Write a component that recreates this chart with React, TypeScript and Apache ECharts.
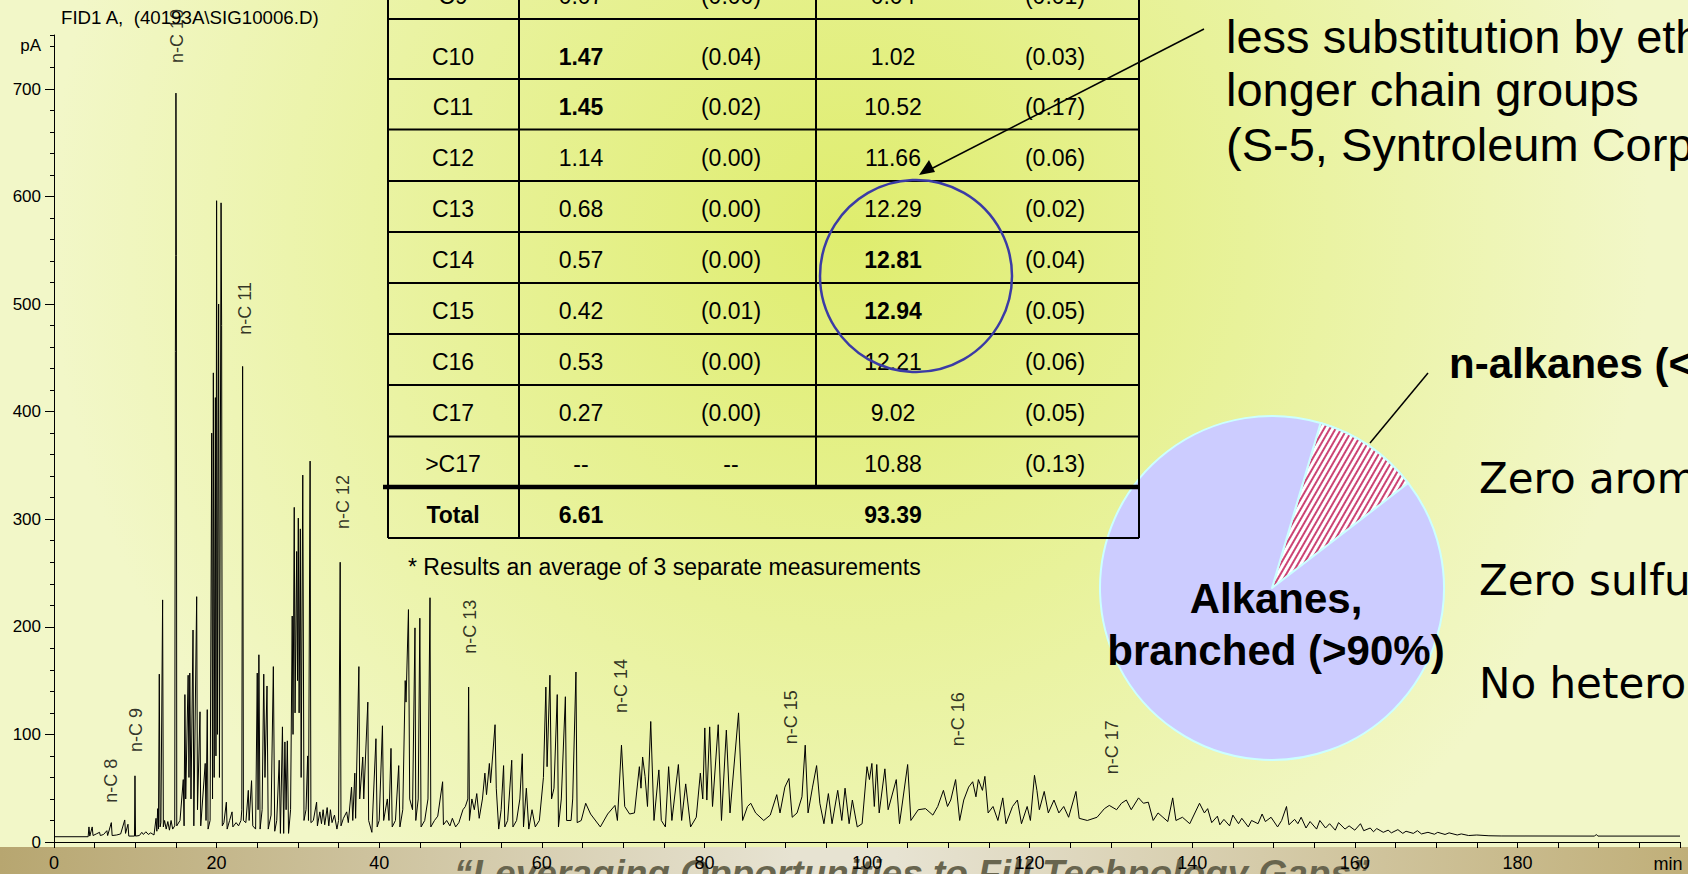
import React, { useEffect, useRef } from "react";
import * as echarts from "echarts";

const W = 1688;
const H = 874;
const FONT = '"Liberation Sans", Arial, Helvetica, sans-serif';

// ---------- axes ----------
const X_MAX = 200;
const X_LABELS = [0, 20, 40, 60, 80, 100, 120, 140, 160, 180];
const Y_MAX = 750;
const Y_LABEL_MAX = 700;

// ---------- chromatogram trace (min, pA) ----------
const TRACE_START: [number, number][] = [
  [0, 4.9], [4.2, 4.9], [4.3, 14], [4.4, 5.5], [4.7, 14], [4.8, 6], [5.2, 7.5], [5.6, 9], [5.7, 6], [6.1, 7],
  [6.5, 10.5], [6.6, 6], [7.05, 18], [7.15, 6], [7.7, 6.5], [8.2, 7.5], [8.7, 20.5], [8.8, 8], [9.1, 16.5],
  [9.2, 5.5], [9.9, 5.5], [9.96, 61.5], [10.03, 5.5], [10.5, 6], [10.8, 9], [11.0, 7], [11.3, 9.5], [11.6, 7],
  [11.9, 8.5], [12.3, 6.5],
];
const TRACE_C10_C11: [number, number][] = [
  [12.55, 22], [12.65, 10], [12.75, 31], [12.85, 12], [12.95, 156], [13.05, 14], [13.15, 18], [13.36, 225],
  [13.45, 14], [13.6, 20], [13.8, 12], [14.0, 19], [14.2, 11], [14.4, 20], [14.6, 12], [14.85, 15], [14.93, 456],
  [14.97, 545], [15.0, 696], [15.05, 545], [15.1, 15], [15.5, 20], [15.9, 58], [16.0, 15], [16.1, 137], [16.2, 40],
  [16.5, 155], [16.6, 60], [16.7, 157], [16.85, 40], [17.1, 197], [17.2, 15], [17.55, 228], [17.65, 30],
  [17.96, 121], [18.05, 15], [18.6, 73], [18.7, 20], [18.85, 123], [18.95, 12], [19.2, 20], [19.4, 380],
  [19.5, 40], [19.6, 436], [19.7, 60], [19.85, 413], [19.92, 80], [20.0, 596], [20.1, 100], [20.25, 500],
  [20.35, 60], [20.55, 594], [20.62, 480], [20.7, 15], [20.9, 18], [21.2, 37], [21.3, 12], [21.6, 20],
  [21.9, 28], [22.0, 14], [22.4, 18], [22.7, 15], [23.0, 20], [23.1, 30], [23.2, 442], [23.3, 20],
];
const TRACE_C11_C12: [number, number][] = [
  [23.6, 18], [23.9, 48], [24.0, 20], [24.3, 57], [24.45, 15], [24.8, 12], [25.0, 157], [25.1, 30], [25.2, 174],
  [25.35, 12], [25.6, 30], [25.8, 156], [25.95, 60], [26.2, 145], [26.35, 12], [26.7, 25], [26.98, 163],
  [27.15, 10], [27.4, 20], [27.7, 76], [27.85, 8], [28.1, 107], [28.25, 8], [28.4, 93], [28.55, 30], [28.7, 94],
  [28.85, 8], [29.1, 30], [29.3, 210], [29.4, 100], [29.55, 311], [29.65, 120], [29.85, 270], [29.95, 150],
  [30.05, 301], [30.15, 120], [30.3, 291], [30.4, 60], [30.6, 341], [30.75, 20], [31.0, 30], [31.2, 80],
  [31.3, 20], [31.5, 354], [31.6, 18], [31.9, 20], [32.3, 37], [32.4, 15], [32.7, 28], [32.9, 17], [33.1, 30],
  [33.3, 16], [33.6, 32], [33.8, 15], [34.0, 30], [34.2, 18], [34.5, 25], [34.8, 12], [35.0, 20], [35.2, 260],
  [35.3, 15],
];
const TRACE_C12_C13: [number, number][] = [
  [35.6, 22], [36.0, 28], [36.2, 18], [36.6, 51], [36.75, 20], [37.0, 64], [37.1, 22], [37.5, 163], [37.6, 40],
  [37.98, 79], [38.1, 40], [38.6, 130], [38.7, 20], [39.1, 9], [39.6, 96], [39.75, 14], [40.0, 20], [40.4, 108],
  [40.55, 20], [41.0, 40], [41.2, 20], [41.45, 87], [41.6, 14], [42.0, 20], [42.4, 71], [42.55, 14], [42.9, 30],
  [43.2, 150], [43.3, 130], [43.6, 216], [43.75, 40], [44.1, 30], [44.4, 199], [44.5, 20], [44.8, 40], [45.0, 208],
  [45.15, 14], [45.6, 20], [46.0, 40], [46.25, 227], [46.35, 14], [46.8, 20], [47.2, 24], [47.8, 56], [47.9, 16],
  [48.3, 20], [48.7, 15], [49.0, 22], [49.4, 14], [49.8, 18], [50.3, 30], [50.6, 33], [50.9, 40], [51.0, 144],
  [51.1, 20],
];
const TRACE_C13_C14: [number, number][] = [
  [51.4, 40], [51.7, 30], [52.0, 45], [52.3, 22], [52.7, 40], [53.0, 64], [53.2, 44], [53.55, 73], [53.7, 55],
  [54.25, 109], [54.4, 50], [54.7, 12], [55.0, 30], [55.3, 71], [55.45, 14], [55.8, 20], [56.3, 76], [56.45, 14],
  [56.9, 20], [57.3, 40], [57.6, 82], [57.75, 14], [58.1, 50], [58.4, 12], [58.8, 30], [59.2, 14], [59.7, 20],
  [60.2, 60], [60.5, 144], [60.65, 70], [61.0, 155], [61.2, 40], [61.5, 50], [61.9, 137], [62.05, 14], [62.4, 40],
  [62.9, 135], [63.05, 20], [63.6, 20], [63.8, 40], [64.2, 158], [64.35, 18], [64.85, 20], [65.4, 36], [66.0, 26],
  [67.2, 14], [68.1, 26], [69.0, 34], [69.3, 20], [69.8, 90], [70.2, 33], [70.8, 26], [71.4, 27], [72.0, 70],
  [72.2, 50], [72.4, 79], [72.7, 61], [73.0, 33], [73.4, 112], [73.8, 20], [74.4, 67], [74.7, 20], [75.2, 14],
  [75.6, 70], [76.0, 20], [76.8, 72], [77.2, 20], [77.7, 54], [78.3, 14], [79.0, 23], [79.5, 64], [79.8, 40],
  [80.05, 106], [80.3, 39], [80.65, 107], [81.0, 33], [81.7, 109], [82.1, 20], [82.7, 104], [83.15, 27],
  [84.2, 120], [84.7, 20],
];
const TRACE_C14_C16: [number, number][] = [
  [85.3, 33], [85.7, 36], [86.3, 27], [87.3, 20], [88.1, 25], [88.9, 44], [89.3, 27], [89.9, 51], [90.4, 59],
  [90.8, 23], [91.4, 27], [92.0, 42], [92.4, 90], [92.75, 27], [93.3, 51], [93.8, 71], [94.2, 36], [94.7, 17],
  [95.25, 45], [95.7, 17], [96.4, 48], [96.9, 20], [97.3, 50], [97.8, 17], [98.2, 39], [98.8, 14], [99.4, 17],
  [100.0, 70], [100.3, 58], [100.6, 73], [100.9, 33], [101.2, 72], [101.5, 27], [102.2, 68], [102.6, 30],
  [103.6, 58], [104.0, 17], [105.0, 72], [105.4, 20], [106.3, 30], [107.2, 31], [108.1, 25], [108.7, 33],
  [109.4, 48], [109.9, 33], [110.3, 39], [110.9, 58], [111.4, 20], [111.9, 39], [112.5, 51], [113.0, 56],
  [113.4, 42], [113.7, 58], [114.2, 48], [114.5, 61], [114.9, 27], [115.5, 33], [116.1, 20], [116.7, 41],
  [117.1, 17], [117.9, 33], [118.5, 39], [119.0, 17], [119.7, 33], [120.1, 20], [120.6, 62], [120.9, 48],
  [121.2, 30], [121.8, 47], [122.3, 27], [123.0, 39], [123.6, 27], [124.2, 33], [124.8, 23], [125.7, 47],
  [126.1, 22],
];
const TRACE_C16_END: [number, number][] = [
  [127.1, 20], [128.3, 23], [129.2, 31], [129.8, 34], [130.7, 30], [131.3, 36], [131.9, 39], [132.5, 30],
  [133.4, 41], [134.0, 36], [134.6, 37], [135.2, 20], [135.8, 27], [136.4, 23], [137.0, 19], [137.6, 41],
  [138.0, 20], [138.8, 23], [139.7, 17], [140.9, 36], [141.5, 27], [141.9, 31], [142.4, 18], [143.1, 24],
  [143.4, 16], [143.9, 21], [144.6, 15], [145.0, 25], [145.7, 17], [146.1, 22], [146.9, 14], [147.3, 20],
  [148.1, 17], [148.6, 26], [149.0, 19], [149.7, 23], [150.5, 14], [151.0, 20], [151.6, 33], [151.9, 16],
  [152.6, 21], [153.0, 17], [153.4, 23], [154.0, 13], [154.5, 19], [155.3, 12], [155.7, 20], [156.4, 13],
  [156.9, 17], [157.6, 11], [158.0, 18], [158.8, 12], [159.3, 15], [160.0, 11], [160.7, 17], [161.1, 10.5],
  [161.9, 13], [162.3, 9.5], [162.7, 12.5], [163.5, 9], [164.1, 11], [164.5, 8.5], [165.3, 11.5], [165.9, 8],
  [166.3, 10], [167.2, 8], [167.7, 10.5], [168.2, 7.5], [169.0, 9], [169.8, 7.2], [170.2, 9], [171.1, 7],
  [171.6, 8.5], [172.6, 6.5], [173.1, 7.5], [174.0, 6], [175.0, 6.5], [176.5, 5.8], [178.0, 5.6],
  [189.5, 5.5], [189.7, 7], [189.9, 5.5], [200, 5.5],
];

// ---------- peak labels (min, pA at label centre, text) ----------
const PEAK_LABELS: [number, number, string][] = [
  [7.0, 57, "n-C 8"], [10.1, 104, "n-C 9"], [15.1, 749, "n-C 10"], [23.5, 496, "n-C 11"],
  [35.5, 316, "n-C 12"], [51.2, 200, "n-C 13"], [69.8, 145, "n-C 14"], [90.7, 116, "n-C 15"],
  [111.2, 114, "n-C 16"], [130.1, 88, "n-C 17"],
];

// ---------- table ----------
const ROW_LABELS = ["C9", "C10", "C11", "C12", "C13", "C14", "C15", "C16", "C17", ">C17"];
const N_PARAFFIN = ["0.07", "1.47", "1.45", "1.14", "0.68", "0.57", "0.42", "0.53", "0.27", "--"];
const N_PARAFFIN_SD = ["(0.00)", "(0.04)", "(0.02)", "(0.00)", "(0.00)", "(0.00)", "(0.01)", "(0.00)", "(0.00)", "--"];
const ISO_PARAFFIN = ["0.04", "1.02", "10.52", "11.66", "12.29", "12.81", "12.94", "12.21", "9.02", "10.88"];
const ISO_PARAFFIN_SD = ["(0.01)", "(0.03)", "(0.17)", "(0.06)", "(0.02)", "(0.04)", "(0.05)", "(0.06)", "(0.05)", "(0.13)"];
const N_BOLD = ["C10", "C11"];
const ISO_BOLD = ["C14", "C15"];
const TOTAL_ROW = ["Total", "6.61", "93.39"];
const FOOTNOTE = "* Results an average of 3 separate measurements";

// ---------- pie ----------
const PIE_NAMES = ["n-alkanes (<10%)", "Alkanes, branched (>90%)"];
const PIE_VALUES = [10, 90];

// ---------- other texts ----------
const HEADER = "FID1 A,  (40193A\\SIG10006.D)";
const NOTE_LINES = ["less substitution by ethyl or", "longer chain groups", "(S-5, Syntroleum Corp.)"];
const BULLETS = ["Zero aromatics", "Zero sulfur", "No heteroatoms"];
const SLOGAN = "\u201CLeveraging Opportunities to Fill Technology Gaps\u201D";

function txt(x: number, y: number, text: string, o: any = {}) {
  const align = o.align || "center";
  const va = o.va || "middle";
  return {
    type: "text",
    x,
    y,
    z: o.z ?? 10,
    silent: true,
    style: {
      text,
      fill: o.fill || "#000",
      fontSize: o.fontSize || 23,
      fontFamily: o.fontFamily || FONT,
      fontWeight: o.fontWeight || "normal",
      fontStyle: o.fontStyle || "normal",
      align,
      verticalAlign: va,
      textAlign: align,
      textVerticalAlign: va,
    },
  };
}

function ln(x1: number, y1: number, x2: number, y2: number, w = 2, color = "#000", z = 8) {
  return { type: "line", z, silent: true, shape: { x1, y1, x2, y2 }, style: { stroke: color, lineWidth: w } };
}

export default function App() {
  const ref = useRef<HTMLDivElement>(null);

  useEffect(() => {
    document.body.style.margin = "0";
    document.body.style.overflow = "hidden";
    if (!ref.current) return;
    const chart = echarts.init(ref.current, undefined, { renderer: "svg", width: W, height: H });

    const trace = [
      ...TRACE_START, ...TRACE_C10_C11, ...TRACE_C11_C12, ...TRACE_C12_C13,
      ...TRACE_C13_C14, ...TRACE_C14_C16, ...TRACE_C16_END,
    ];

    const g: any[] = [];
    // slide background
    g.push({
      type: "rect", z: -100, silent: true,
      shape: { x: 0, y: 0, width: W, height: H },
      style: {
        fill: new echarts.graphic.RadialGradient(850, 230, 800, [
          { offset: 0, color: "#dfed6e" },
          { offset: 0.5, color: "#e8f29a" },
          { offset: 1, color: "#f2f7c8" },
        ], true),
      },
    });
    // bottom band
    g.push({
      type: "rect", z: -50, silent: true,
      shape: { x: 0, y: 847, width: W, height: H - 847 },
      style: {
        fill: new echarts.graphic.LinearGradient(0, 0, 1, 0, [
          { offset: 0, color: "#b7a670" },
          { offset: 0.47, color: "#e7e3d2" },
          { offset: 0.53, color: "#e7e3d2" },
          { offset: 1, color: "#c0af79" },
        ]),
      },
    });
    g.push(txt(454, 873, SLOGAN, { align: "left", fontSize: 37, fontWeight: "bold", fontStyle: "italic", fill: "#68654e", z: -40 }));

    // header & axis extras
    g.push(txt(61, 17, HEADER, { align: "left", fontSize: 18.7 }));
    g.push(txt(1668, 864, "min", { fontSize: 18, z: 5 }));

    // table grid
    const colX = [388, 519, 816, 1139];
    const rowLines = [19, 79, 129.5, 181, 232, 283, 334, 385, 436.5];
    rowLines.forEach((y) => g.push(ln(388, y, 1139, y)));
    g.push(ln(383, 487, 1139, 487, 4.5));
    g.push(ln(388, 538, 1139, 538));
    colX.forEach((x) => g.push(ln(x, -2, x, x === 816 ? 487 : 538)));

    const cellX = [453, 581, 731, 893, 1055];
    const rowY = [-4, 57, 107, 158, 209, 260, 311, 362, 413, 464];
    ROW_LABELS.forEach((lab, i) => {
      const cells = [lab, N_PARAFFIN[i], N_PARAFFIN_SD[i], ISO_PARAFFIN[i], ISO_PARAFFIN_SD[i]];
      cells.forEach((c, j) => {
        const bold = (j === 1 && N_BOLD.includes(lab)) || (j === 3 && ISO_BOLD.includes(lab));
        g.push(txt(cellX[j], rowY[i], c, { fontWeight: bold ? "bold" : "normal" }));
      });
    });
    [0, 1, 3].forEach((j, k) => g.push(txt(cellX[j], 515, TOTAL_ROW[k], { fontWeight: "bold" })));
    g.push(txt(408, 567, FOOTNOTE, { align: "left" }));

    // circle + arrow
    g.push({ type: "circle", z: 12, silent: true, shape: { cx: 916, cy: 276, r: 96 }, style: { fill: "none", stroke: "#3b3ba6", lineWidth: 2.5 } });
    g.push(ln(1204, 29, 925, 172, 1.5, "#000", 12));
    g.push({ type: "polygon", z: 12, silent: true, shape: { points: [[919, 175], [935, 172], [929, 160]] }, style: { fill: "#000" } });

    // right-hand texts
    const noteY = [36, 89, 144];
    NOTE_LINES.forEach((t, i) => g.push(txt(1226, noteY[i], t, { align: "left", fontSize: 47 })));
    g.push(txt(1449, 363, PIE_NAMES[0], { align: "left", fontSize: 42, fontWeight: "bold", z: 20 }));
    g.push(ln(1428, 373, 1370, 443, 1.5, "#000", 20));
    g.push(txt(1276, 598, "Alkanes,", { fontSize: 42, fontWeight: "bold", z: 20 }));
    g.push(txt(1276, 650, "branched (>90%)", { fontSize: 42, fontWeight: "bold", z: 20 }));
    BULLETS.forEach((t, i) => g.push(txt(1479, 478 + i * 102.5, t, { align: "left", fontSize: 42, fontFamily: '"DejaVu Sans", Verdana, sans-serif' })));

    const axisText = { color: "#000", fontFamily: FONT };

    chart.setOption({
      animation: false,
      grid: [
        { left: 54, right: 8, top: 35, bottom: 32 },
        { left: 54, right: 8, top: 89, bottom: 32 },
      ],
      xAxis: [
        {
          gridIndex: 0, type: "value", min: 0, max: X_MAX, interval: 5,
          axisLine: { show: true, onZero: false, lineStyle: { color: "#000", width: 1 } },
          axisTick: { show: true, length: 6, lineStyle: { color: "#000", width: 1 } },
          axisLabel: { ...axisText, fontSize: 18, margin: 12, formatter: (v: number) => (X_LABELS.indexOf(v) >= 0 ? String(v) : "") },
          splitLine: { show: false },
        },
        { gridIndex: 1, type: "value", min: 0, max: X_MAX, show: false },
      ],
      yAxis: [
        {
          gridIndex: 0, type: "value", min: 0, max: Y_MAX, interval: 20,
          axisLine: { show: true, onZero: false, lineStyle: { color: "#000", width: 1 } },
          axisTick: { show: true, length: 4, lineStyle: { color: "#000", width: 1 } },
          axisLabel: { ...axisText, fontSize: 17, margin: 13, formatter: (v: number) => (v === 740 ? "pA" : "") },
          splitLine: { show: false },
        },
        {
          gridIndex: 1, type: "value", min: 0, max: Y_LABEL_MAX, interval: 100,
          axisLine: { show: false },
          axisTick: { show: true, length: 9, lineStyle: { color: "#000", width: 1 } },
          axisLabel: { ...axisText, fontSize: 17, margin: 13 },
          splitLine: { show: false },
        },
      ],
      graphic: { elements: g },
      series: [
        {
          type: "line", xAxisIndex: 0, yAxisIndex: 0, data: trace, symbol: "none", silent: true,
          lineStyle: { color: "#000", width: 1 }, z: 3,
        },
        {
          type: "scatter", xAxisIndex: 0, yAxisIndex: 0, symbolSize: 0, silent: true, clip: false, z: 4,
          data: PEAK_LABELS.map((d) => ({ value: [d[0], d[1]], name: d[2] })),
          label: { show: true, position: "inside", rotate: 90, formatter: (p: any) => p.name, fontSize: 18, color: "#000", fontFamily: FONT },
        },
        {
          type: "pie", center: [1272, 588], radius: 172, startAngle: 73.6, clockwise: true, silent: true, z: 6,
          label: { show: false }, labelLine: { show: false },
          itemStyle: { borderColor: "#ccffff", borderWidth: 2 },
          data: [
            {
              name: PIE_NAMES[0], value: PIE_VALUES[0],
              itemStyle: {
                color: "#ffffff",
                decal: { symbol: "rect", symbolSize: 1, color: "#cc4474", dashArrayX: [1, 0], dashArrayY: [1.3, 2.5], rotation: -Math.PI / 3 },
              },
            },
            { name: PIE_NAMES[1], value: PIE_VALUES[1], itemStyle: { color: "#ccccff" } },
          ],
        },
      ],
    });

    return () => chart.dispose();
  }, []);

  return <div ref={ref} style={{ position: "absolute", left: 0, top: 0, width: W, height: H, overflow: "hidden" }} />;
}
